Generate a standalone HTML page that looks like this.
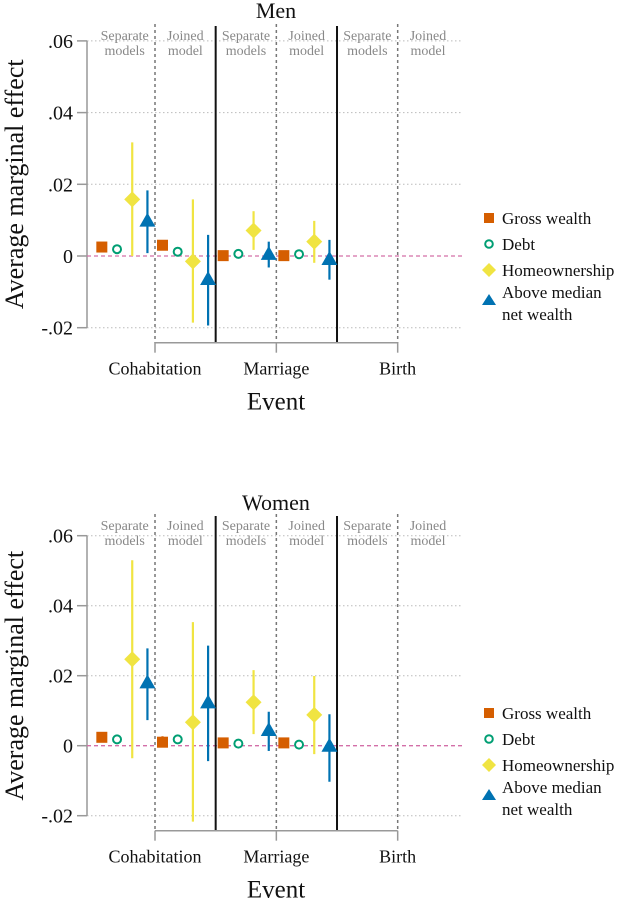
<!DOCTYPE html>
<html><head><meta charset="utf-8">
<style>
html,body{margin:0;padding:0;background:#fff;}
svg, svg text{font-family:"Liberation Serif","DejaVu Serif",serif;}
</style></head>
<body>
<svg id="chart" width="630" height="904" viewBox="0 0 630 904" xmlns="http://www.w3.org/2000/svg" font-family="Liberation Serif, DejaVu Serif, serif"></svg>
<script>
// ---- data ----
const panels = ["Men", "Women"];
const events = ["Cohabitation", "Marriage", "Birth"];
const models = ["Separate models", "Joined model"];
const series = ["Gross wealth", "Debt", "Homeownership", "Above median net wealth"];
const yTicks = [0.06, 0.04, 0.02, 0, -0.02];
const yTickLabels = [".06", ".04", ".02", "0", "-.02"];
// order per panel: [coh-sep, coh-joined, mar-sep, mar-joined]
const menEst = [
  [0.0025, 0.0019, 0.0158, 0.0096],
  [0.0030, 0.0012, -0.0015, -0.0067],
  [0.0001, 0.0006, 0.0071, 0.0003],
  [0.0001, 0.0005, 0.0040, -0.0011]
];
const menLo = [
  [0.0020, 0.0015, 0.0000, 0.0008],
  [0.0025, 0.0008, -0.0186, -0.0194],
  [-0.0003, 0.0003, 0.0017, -0.0032],
  [-0.0003, 0.0002, -0.0019, -0.0066]
];
const menHi = [
  [0.0030, 0.0023, 0.0317, 0.0183],
  [0.0035, 0.0016, 0.0158, 0.0059],
  [0.0005, 0.0009, 0.0125, 0.0040],
  [0.0005, 0.0008, 0.0098, 0.0045]
];
const womenEst = [
  [0.0024, 0.0018, 0.0247, 0.0178],
  [0.0010, 0.0018, 0.0067, 0.0121],
  [0.0008, 0.0006, 0.0124, 0.0042],
  [0.0008, 0.0003, 0.0088, -0.0003]
];
const womenLo = [
  [0.0019, 0.0013, -0.0036, 0.0073],
  [-0.0003, 0.0008, -0.0217, -0.0044],
  [0.0004, 0.0002, 0.0033, -0.0015],
  [0.0004, -0.0001, -0.0024, -0.0103]
];
const womenHi = [
  [0.0029, 0.0023, 0.0530, 0.0278],
  [0.0027, 0.0028, 0.0353, 0.0286],
  [0.0012, 0.0010, 0.0216, 0.0097],
  [0.0012, 0.0007, 0.0199, 0.0090]
];
const estData = [menEst, womenEst];
const loData = [menLo, womenLo];
const hiData = [menHi, womenHi];

// ---- layout ----
const NS = "http://www.w3.org/2000/svg";
const svg = document.getElementById("chart");
const FONT = "Liberation Serif, DejaVu Serif, serif";
const colors = ["#d55e00", "#009e73", "#f0e442", "#0072b2"];
const panelTop = [0, 490];
const y0px = [256, 745.7];      // pixel of y=0
const pxPerUnit = [3585, 3500]; // pixels per 1.0
const axisX = 87, plotRight = 463, firstCat = 155, halfW = 60.67;
function el(tag, attrs, parent) {
  const e = document.createElementNS(NS, tag);
  for (const k in attrs) e.setAttribute(k, attrs[k]);
  if (tag === "text") e.setAttribute("font-family", FONT);
  (parent || svg).appendChild(e);
  return e;
}
function yScale(p, v) { return y0px[p] - v * pxPerUnit[p]; }
function groupLeft(g) { return firstCat - halfW + g * halfW; }
function xScale(g, s) { return groupLeft(g) + 7.5 + s * 15.2; }

panels.forEach((name, p) => {
  const g = el("g", {}, svg);
  
  
  const top = panelTop[p];
  const yTop = yScale(p, 0.06), yBot = yScale(p, -0.02);
  yTicks.forEach((t, i) => {
    const y = yScale(p, t);
    if (t !== 0) {
      const gl = el("line", {x1: axisX, x2: plotRight, y1: y, y2: y, stroke: "#bbb", "stroke-width": 1, "stroke-dasharray": "1.5,2.5"}, g);
      
      
    }
    const tk = el("line", {x1: axisX - 10, x2: axisX, y1: y, y2: y, stroke: "#999", "stroke-width": 1.5}, g);
    
    
    const tl = el("text", {x: 73, y: y + 7, "text-anchor": "end", "font-size": 20, fill: "#111"}, g);
    tl.textContent = yTickLabels[i];
    
    
  });
  const ya = el("line", {x1: axisX, x2: axisX, y1: yTop, y2: yBot, stroke: "#999", "stroke-width": 1.5}, g);
  
  
  const zl = el("line", {x1: axisX, x2: plotRight, y1: yScale(p, 0), y2: yScale(p, 0), stroke: "#d36fa8", "stroke-width": 1.3, "stroke-dasharray": "4,3"}, g);
  
  
  const sepTop = top + 24, sepBot = yBot + 15;
  for (let k = 1; k <= 5; k++) {
    const x = groupLeft(k);
    const solid = (k % 2 === 0);
    const ln = el("line", {x1: x, x2: x, y1: solid ? top + 26 : sepTop, y2: sepBot, stroke: solid ? "#111" : "#777", "stroke-width": solid ? 2 : 1.5, "stroke-dasharray": solid ? "none" : "3,3"}, g);
    
    
  }
  const xa = el("line", {x1: firstCat, x2: firstCat + 4 * halfW, y1: sepBot, y2: sepBot, stroke: "#999", "stroke-width": 1.5}, g);
  
  
  events.forEach((ev, i) => {
    const x = firstCat + i * 2 * halfW;
    const tk = el("line", {x1: x, x2: x, y1: sepBot, y2: sepBot + 10, stroke: "#999", "stroke-width": 1.5}, g);
    
    
    const t = el("text", {x: x, y: sepBot + 32, "text-anchor": "middle", "font-size": 18, fill: "#111"}, g);
    t.textContent = ev;
    
    
  });
  for (let k = 0; k < 6; k++) {
    const cx = groupLeft(k) + halfW / 2;
    const words = models[k % 2].split(" ");
    words.forEach((w, j) => {
      const t = el("text", {x: cx, y: top + 40 + j * 15, "text-anchor": "middle", "font-size": 14, fill: "#888"}, g);
      t.textContent = w;
      
      
    });
  }
  const tt = el("text", {x: 276, y: top + (p === 0 ? 18 : 20), "text-anchor": "middle", "font-size": 22, fill: "#111"}, g);
  tt.textContent = name;
  
  
  const xt = el("text", {x: 276, y: sepBot + 67, "text-anchor": "middle", "font-size": 25, fill: "#111"}, g);
  xt.textContent = "Event";
  
  
  const ycy = (yTop + yBot) / 2;
  const yt = el("text", {x: 0, y: 0, transform: `translate(23,${ycy}) rotate(-90)`, "text-anchor": "middle", "font-size": 26, fill: "#111"}, g);
  yt.textContent = "Average marginal effect";
  
  
  estData[p].forEach((grp, gi) => {
    grp.forEach((v, s) => {
      const x = xScale(gi, s);
      const y = yScale(p, v);
      const ci = el("line", {x1: x, x2: x, y1: yScale(p, hiData[p][gi][s]), y2: yScale(p, loData[p][gi][s]), stroke: colors[s], "stroke-width": 2.2}, g);
      
      
      let m;
      if (s === 0) m = el("rect", {x: x - 5.5, y: y - 5.5, width: 11, height: 11, fill: colors[0]}, g);
      else if (s === 1) m = el("circle", {cx: x, cy: y, r: 4, fill: "#fff", stroke: colors[1], "stroke-width": 2}, g);
      else if (s === 2) m = el("polygon", {points: `${x},${y-8} ${x+8},${y} ${x},${y+8} ${x-8},${y}`, fill: colors[2]}, g);
      else m = el("polygon", {points: `${x},${y-9} ${x+8},${y+5} ${x-8},${y+5}`, fill: colors[3]}, g);
      
      
    });
  });
  const lg = el("g", {}, g);
  
  
  const base = p === 0 ? 218 : 713;
  const offs = [0, 26, 52, 75];
  series.forEach((s, i) => {
    const yy = base + offs[i];
    const x = 489;
    let m;
    if (i === 0) m = el("rect", {x: x - 5, y: yy - 5, width: 10, height: 10, fill: colors[0]}, lg);
    else if (i === 1) m = el("circle", {cx: x, cy: yy, r: 3.8, fill: "#fff", stroke: colors[1], "stroke-width": 2}, lg);
    else if (i === 2) m = el("polygon", {points: `${x},${yy-7} ${x+7},${yy} ${x},${yy+7} ${x-7},${yy}`, fill: colors[2]}, lg);
    else m = el("polygon", {points: `${x},${yy+1} ${x+7},${yy+12} ${x-7},${yy+12}`, fill: colors[3]}, lg);
    
    
    if (i < 3) {
      const t = el("text", {x: 502, y: yy + 6, "font-size": 17, fill: "#111"}, lg);
      t.textContent = s;
      
      
    } else {
      const t1 = el("text", {x: 502, y: yy + 5, "font-size": 17, fill: "#111"}, lg);
      t1.textContent = "Above median";
      
      
      const t2 = el("text", {x: 502, y: yy + 27, "font-size": 17, fill: "#111"}, lg);
      t2.textContent = "net wealth";
      
      
    }
  });
});
</script>
</body></html>
